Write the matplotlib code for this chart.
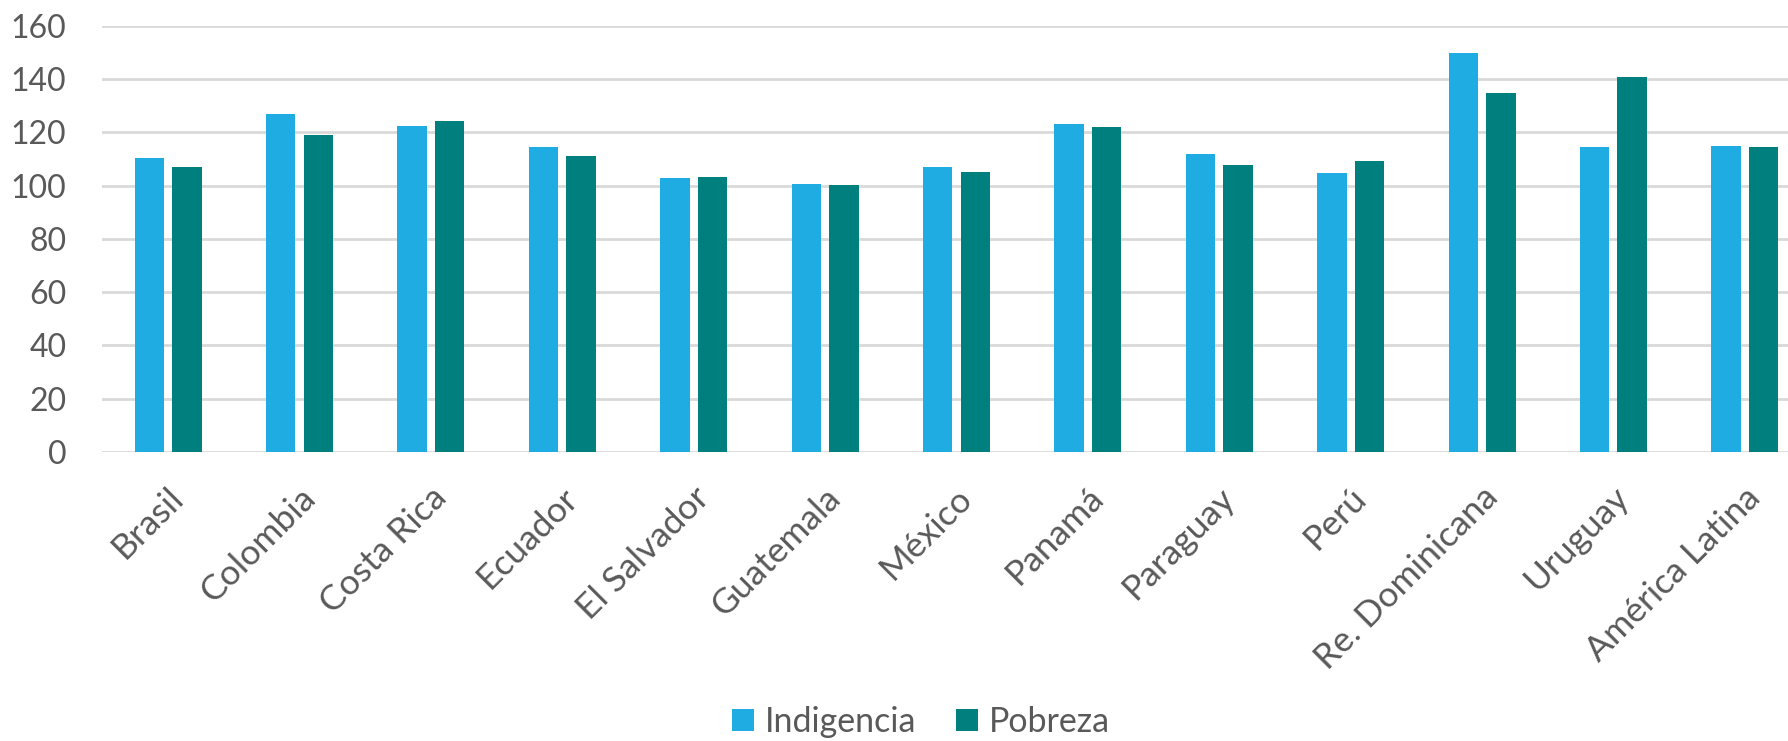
import matplotlib
matplotlib.use("Agg")
import matplotlib.pyplot as plt
import matplotlib.transforms as mtransforms
import numpy as np

plt.rcParams['font.family'] = ['Lato', 'DejaVu Sans']

paises = ["Brasil", "Colombia", "Costa Rica", "Ecuador", "El Salvador", "Guatemala",
          "México", "Panamá", "Paraguay", "Perú", "Re. Dominicana", "Uruguay",
          "América Latina"]
indigencia = [110.4, 126.8, 122.5, 114.5, 102.8, 100.6, 107.1, 123.1, 112.0, 104.6,
              149.8, 114.5, 114.8]
pobreza = [107.0, 118.8, 124.1, 111.0, 103.1, 100.3, 105.1, 121.9, 107.8, 109.1,
           134.6, 140.6, 114.5]

c_ind = "#1EACE3"
c_pob = "#007F7F"
gris = "#595959"

fig = plt.figure(figsize=(17.88, 7.41), dpi=100)
ax = fig.add_axes([0.0573, 0.390, 0.9553, 0.5753])

x = np.arange(len(paises))
w = 0.2245
off = 0.143
ax.bar(x - off, indigencia, w, color=c_ind, label="Indigencia", zorder=2)
ax.bar(x + off, pobreza, w, color=c_pob, label="Pobreza", zorder=2)

ax.set_xlim(-0.5, len(paises) - 0.5)
ax.set_ylim(0, 160)
ax.set_yticks(range(0, 161, 20))
ax.yaxis.grid(True, color="#D9D9D9", linewidth=2)
ax.set_axisbelow(True)
for s in ax.spines.values():
    s.set_visible(False)

ax.tick_params(axis="y", length=0, pad=26, labelsize=23, labelcolor=gris)
ax.tick_params(axis="x", length=0, pad=21, labelsize=25.5, labelcolor=gris)
ax.set_xticks(x)
ax.set_xticklabels(paises, rotation=45, ha="right", va="top", rotation_mode="anchor")
shift = mtransforms.ScaledTranslation(-1 / 100, 0, fig.dpi_scale_trans)
for lab in ax.get_xticklabels():
    lab.set_transform(lab.get_transform() + shift)

fig.legend(loc="center", bbox_to_anchor=(0.515, 0.026), ncol=2, frameon=False,
           fontsize=24.5, labelcolor=gris, handlelength=0.65, handleheight=0.62,
           handletextpad=0.32, columnspacing=1.15)

fig.savefig("out.png", dpi=100)
